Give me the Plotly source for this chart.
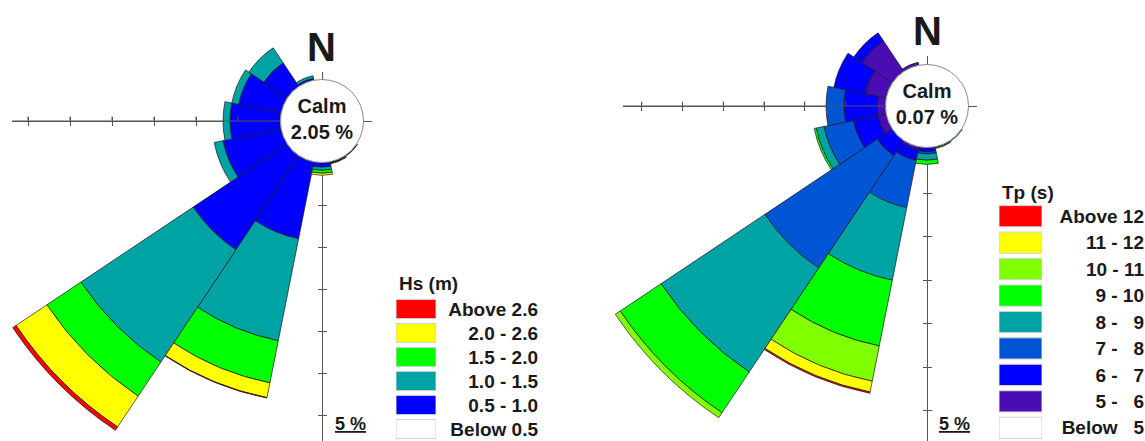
import plotly.graph_objects as go

# ---------------- data ----------------
directions = ["N", "NNE", "NE", "ENE", "E", "ESE", "SE", "SSE",
              "S", "SSW", "SW", "WSW", "W", "WNW", "NW", "NNW"]
bearings = [0.0, 22.5, 45.0, 67.5, 90.0, 112.5, 135.0, 157.5,
            180.0, 202.5, 225.0, 247.5, 270.0, 292.5, 315.0, 337.5]

# Hs (m) rose: frequency (%) per direction, order N .. NNW
hs_below_0_5 = [0, 0, 0, 0, 0, 0, 0, 0, 0, 0, 0, 0, 0, 0, 0, 0]
hs_0_5_1_0 = [0, 0, 0, 0, 0, 0, 0, 0.05, 0.50, 9.29, 13.45, 7.02, 5.95, 5.12, 3.33, 0.20]
hs_1_0_1_5 = [0, 0, 0, 0, 0, 0, 0, 0.05, 0.36, 12.38, 16.07, 1.07, 0.83, 0.83, 2.14, 0.30]
hs_1_5_2_0 = [0, 0, 0, 0, 0, 0, 0.03, 0.05, 0.36, 5.12, 4.88, 0, 0, 0, 0, 0]
hs_2_0_2_6 = [0, 0, 0, 0, 0, 0, 0.03, 0.05, 0.24, 1.79, 4.40, 0, 0, 0, 0, 0]
hs_above_2_6 = [0, 0, 0, 0, 0, 0, 0, 0, 0, 0.05, 0.48, 0, 0, 0, 0, 0]
hs_labels = ["Above 2.6", "2.0 - 2.6", "1.5 - 2.0", "1.0 - 1.5", "0.5 - 1.0", "Below 0.5"]
hs_colors = ["#FF0000", "#FFFF00", "#00FF00", "#00A3A3", "#0000FF", "#FFFFFF"]
hs_calm = 2.05

# Tp (s) rose: frequency (%) per direction, order N .. NNW
tp_below_5 = [0, 0, 0, 0, 0, 0, 0, 0, 0, 0, 0, 0, 0, 0, 0, 0]
tp_5_6 = [0, 0, 0, 0, 0, 0, 0, 0, 0, 0.30, 0, 0.95, 0.95, 2.50, 4.29, 0.30]
tp_6_7 = [0, 0, 0, 0, 0, 0, 0, 0, 0.45, 1.30, 2.14, 2.98, 3.93, 3.81, 1.19, 0]
tp_7_8 = [0, 0, 0, 0, 0, 0, 0, 0, 0.25, 5.73, 16.07, 3.57, 2.14, 0, 0, 0]
tp_8_9 = [0, 0, 0, 0, 0, 0, 0, 0.08, 0.75, 8.81, 14.88, 0.95, 0, 0, 0, 0]
tp_9_10 = [0, 0, 0, 0, 0, 0, 0.05, 0.08, 0.50, 7.98, 5.83, 0.24, 0, 0, 0, 0]
tp_10_11 = [0, 0, 0, 0, 0, 0, 0, 0, 0, 4.29, 0.71, 0, 0, 0, 0, 0]
tp_11_12 = [0, 0, 0, 0, 0, 0, 0, 0, 0, 1.31, 0, 0, 0, 0, 0, 0]
tp_above_12 = [0, 0, 0, 0, 0, 0, 0, 0, 0, 0.15, 0, 0, 0, 0, 0, 0]
tp_labels = ["Above 12", "11 - 12", "10 - 11", "9 - 10", "8 -\u2007 9", "7 -\u2007 8",
             "6 -\u2007 7", "5 -\u2007 6", "Below\u2007 5"]
tp_colors = ["#FF0000", "#FFFF00", "#80FF00", "#00FF00", "#00A3A3", "#0055D4",
             "#0000FF", "#4A0DB4", "#FFFFFF"]
tp_calm = 0.07

ring_pct = [5, 10, 15, 20, 25, 30]      # scale rings, 5 % apart
scale_label = "5 %"

# ---------------- geometry ----------------
VW, VH = 1145, 441          # visible window
OX, OY = 60, 280            # the roses are larger than the window (cropped view)
FW, FH = 1400, 800          # full figure
FONT = "Liberation Sans"
LINE = "#555555"
OUTLINE = "#1a1a1a"
HOLE_PX = 42
PPP = 8.4                   # pixels per percent on the roses
R_BIG = 380


def fx(x):
    return (x + OX) / FW


def fy(y):
    return 1 - (y + OY) / FH


fig = go.Figure()


def add_rose(pol, pol_ax, xa, ya, xo, yo, cx, cy, classes, calm,
             hx0, hx1, vy0, pph, ppv):
    for name, vals, col in classes:
        fig.add_trace(go.Barpolar(
            r=vals, theta=bearings, width=[22.5] * len(bearings), name=name,
            marker=dict(color=col, line=dict(color=OUTLINE, width=0.7)),
            subplot=pol, hoverinfo="skip", showlegend=False))
    fig.update_layout({pol: dict(
        domain=dict(x=[fx(cx - R_BIG), fx(cx + R_BIG)], y=[fy(cy + R_BIG), fy(cy - R_BIG)]),
        hole=HOLE_PX / R_BIG,
        bgcolor="rgba(0,0,0,0)",
        angularaxis=dict(visible=False, rotation=90, direction="clockwise"),
        radialaxis=dict(range=[0, (R_BIG - HOLE_PX) / PPP], visible=False),
    )})

    # west scale axis drawn over the bars
    hole_a = HOLE_PX * pph / PPP
    r_ax = cx - hx0
    fig.add_trace(go.Scatterpolar(r=[0], theta=[0], mode="markers",
                                  marker=dict(size=1, opacity=0), subplot=pol_ax,
                                  hoverinfo="skip", showlegend=False))
    fig.update_layout({pol_ax: dict(
        domain=dict(x=[fx(cx - r_ax), fx(cx + r_ax)], y=[fy(cy + r_ax), fy(cy - r_ax)]),
        hole=hole_a / r_ax,
        bgcolor="rgba(0,0,0,0)",
        angularaxis=dict(visible=False, rotation=90, direction="clockwise"),
        radialaxis=dict(range=[0, (r_ax - hole_a) / pph], angle=180, showline=True,
                        linecolor=LINE, linewidth=1, showgrid=False, showticklabels=False,
                        ticks="outside", ticklen=4, tickcolor=LINE, tickvals=ring_pct),
    )})

    hole_u = HOLE_PX / PPP
    tv = [hole_u + t for t in ring_pct]
    fig.add_trace(go.Scatter(
        x=[0], y=[0], xaxis=xa, yaxis=ya, mode="markers+text",
        marker=dict(size=2 * HOLE_PX - 1, color="white", line=dict(color="#8a8a8a", width=1)),
        text=["<b>Calm<br>%.2f %%</b>" % calm], textposition="middle center",
        textfont=dict(family=FONT, size=20, color="#1a1a1a"),
        cliponaxis=False, hoverinfo="skip", showlegend=False))
    fig.add_trace(go.Scatter(
        x=[0], y=[0], xaxis=xo, yaxis=yo, mode="markers", marker=dict(opacity=0),
        hoverinfo="skip", showlegend=False))

    ybot = VH + 20
    xr = [(cx - hx0) / pph, (cx - hx1) / pph]
    yr = [(ybot - cy) / ppv, (vy0 - cy) / ppv]
    tick = dict(showgrid=False, showticklabels=False, showline=False, tickvals=tv,
                tickcolor=LINE, ticklen=4, tickwidth=1, fixedrange=True)
    fig.update_layout({
        "xaxis" + xa[1:]: dict(domain=[fx(hx0), fx(hx1)], range=xr, anchor="free",
                               position=fy(cy), ticks="outside", zeroline=True,
                               zerolinecolor=LINE, zerolinewidth=1, **tick),
        "yaxis" + ya[1:]: dict(domain=[fy(ybot), fy(vy0)], range=yr, anchor="free",
                               position=fx(cx), ticks="outside", zeroline=True,
                               zerolinecolor=LINE, zerolinewidth=1, **tick),
        "xaxis" + xo[1:]: dict(overlaying=xa, range=xr, anchor="free", position=fy(cy),
                               ticks="inside", zeroline=False, **tick),
        "yaxis" + yo[1:]: dict(overlaying=ya, range=yr, anchor="free", position=fx(cx),
                               ticks="inside", zeroline=False, **tick),
    })


def add_legend(xa, ya, labels, colors, x0, x1, ytop, ybot, label_pos):
    n = len(labels)
    fig.add_trace(go.Bar(
        x=[1] * n, y=labels, orientation="h", base=0, width=0.8,
        marker=dict(color=colors, line=dict(color="#d0d0d0", width=1)),
        xaxis=xa, yaxis=ya, hoverinfo="skip", showlegend=False))
    fig.update_layout({
        "xaxis" + xa[1:]: dict(domain=[fx(x0), fx(x1)], range=[0, 1], visible=False,
                               anchor=ya, fixedrange=True),
        "yaxis" + ya[1:]: dict(domain=[fy(ybot), fy(ytop)], range=[n - 0.5, -0.5],
                               type="category", anchor="free", position=fx(label_pos),
                               side="left", ticks="", showgrid=False, zeroline=False,
                               showline=False, fixedrange=True,
                               tickfont=dict(family=FONT, size=19, color="#1a1a1a",
                                             weight="bold")),
    })


hs_classes = [("Below 0.5", hs_below_0_5, hs_colors[5]),
              ("0.5 - 1.0", hs_0_5_1_0, hs_colors[4]),
              ("1.0 - 1.5", hs_1_0_1_5, hs_colors[3]),
              ("1.5 - 2.0", hs_1_5_2_0, hs_colors[2]),
              ("2.0 - 2.6", hs_2_0_2_6, hs_colors[1]),
              ("Above 2.6", hs_above_2_6, hs_colors[0])]
tp_classes = [("Below 5", tp_below_5, tp_colors[8]),
              ("5 - 6", tp_5_6, tp_colors[7]),
              ("6 - 7", tp_6_7, tp_colors[6]),
              ("7 - 8", tp_7_8, tp_colors[5]),
              ("8 - 9", tp_8_9, tp_colors[4]),
              ("9 - 10", tp_9_10, tp_colors[3]),
              ("10 - 11", tp_10_11, tp_colors[2]),
              ("11 - 12", tp_11_12, tp_colors[1]),
              ("Above 12", tp_above_12, tp_colors[0])]

add_rose("polar", "polar3", "x", "y", "x2", "y2", 322, 121, hs_classes, hs_calm,
         12, 372, 72, 8.4, 8.4)
add_rose("polar2", "polar4", "x3", "y3", "x4", "y4", 927, 106, tp_classes, tp_calm,
         623, 977, 56, 8.15, 8.7)
add_legend("x5", "y5", hs_labels, hs_colors, 396, 436, 297, 441, 538)
add_legend("x6", "y6", tp_labels, tp_colors, 999, 1042, 203, 441, 1144)

ann_font = dict(family=FONT, color="#1a1a1a")
annotations = [
    dict(x=fx(321), y=fy(47), text="<b>N</b>", font=dict(size=40, **ann_font)),
    dict(x=fx(927), y=fy(31), text="<b>N</b>", font=dict(size=40, **ann_font)),
    dict(x=fx(350), y=fy(424), text="<b><u>%s</u></b>" % scale_label, font=dict(size=18, **ann_font)),
    dict(x=fx(954), y=fy(424), text="<b><u>%s</u></b>" % scale_label, font=dict(size=18, **ann_font)),
    dict(x=fx(397), y=fy(283), text="<b>Hs (m)</b>", xanchor="left", font=dict(size=19, **ann_font)),
    dict(x=fx(1000), y=fy(192), text="<b>Tp (s)</b>", xanchor="left", font=dict(size=19, **ann_font)),
]
for a in annotations:
    a.setdefault("xanchor", "center")
    a.update(xref="paper", yref="paper", yanchor="middle", showarrow=False)

fig.update_layout(
    width=FW, height=FH, margin=dict(l=0, r=0, t=0, b=0),
    paper_bgcolor="white", plot_bgcolor="rgba(0,0,0,0)",
    showlegend=False, hovermode=False, annotations=annotations,
    font=dict(family=FONT),
)

# show the cropped window of the figure, as in the reference
post = """
var gd = document.getElementById('{plot_id}');
document.documentElement.style.margin = '0';
document.documentElement.style.overflow = 'hidden';
document.body.style.margin = '0';
document.body.style.overflow = 'hidden';
var wrap = gd.parentElement;
wrap.style.position = 'relative';
wrap.style.width = '%dpx';
wrap.style.height = '%dpx';
wrap.style.overflow = 'hidden';
gd.style.position = 'absolute';
gd.style.left = '-%dpx';
gd.style.top = '-%dpx';
""" % (VW, VH, OX, OY)

fig.write_html("out.html", post_script=post, config={"displayModeBar": False})
